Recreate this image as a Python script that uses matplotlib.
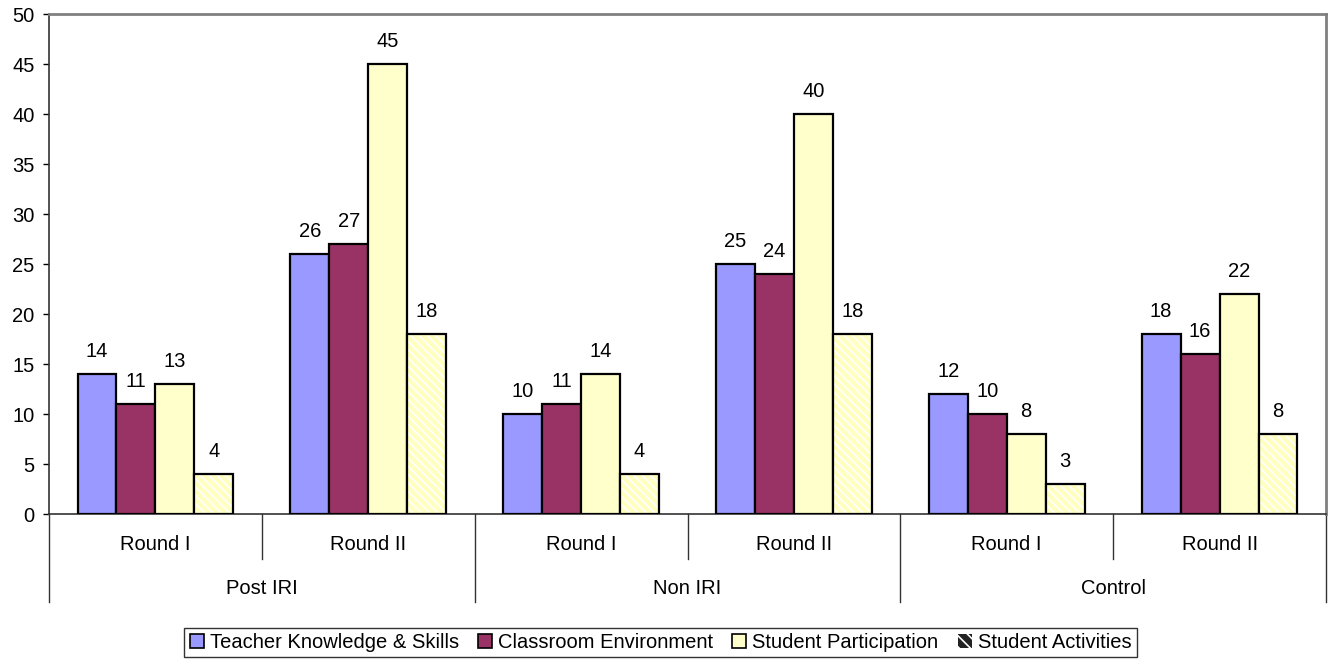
import matplotlib
matplotlib.use("Agg")
import matplotlib.pyplot as plt
from matplotlib.patches import Patch
import matplotlib.transforms as mtransforms

plt.rcParams['font.family'] = ['Liberation Sans', 'DejaVu Sans']
plt.rcParams['hatch.linewidth'] = 1.2

groups = ["Post IRI", "Non IRI", "Control"]
rounds = ["Round I", "Round II", "Round I", "Round II", "Round I", "Round II"]
series_names = ["Teacher Knowledge & Skills", "Classroom Environment",
                "Student Participation", "Student Activities"]
teacher = [14, 26, 10, 25, 12, 18]
classroom = [11, 27, 11, 24, 10, 16]
participation = [13, 45, 14, 40, 8, 22]
activities = [4, 18, 4, 18, 3, 8]
yticks = list(range(0, 51, 5))

colors = ["#9999FF", "#993366", "#FFFFCC", "#FFFFC0"]
FS = 14.5

fig = plt.figure(figsize=(13.31, 6.64), dpi=100)
ax = fig.add_axes([49 / 1331, 1 - 514 / 664, 1277 / 1331, 500 / 664])

width = 0.183
xs = [i + 0.5 for i in range(len(rounds))]
all_series = [teacher, classroom, participation, activities]
for k, vals in enumerate(all_series):
    pos = [x + (k - 1.5) * width for x in xs]
    if k < 3:
        ax.bar(pos, vals, width=width, color=colors[k], edgecolor="black",
               linewidth=1.6, zorder=3)
    else:
        # light hatched fill, then black outline on top
        ax.bar(pos, vals, width=width, color=colors[k], edgecolor="white",
               hatch="\\\\\\\\", linewidth=0, zorder=3)
        ax.bar(pos, vals, width=width, color="none", edgecolor="black",
               linewidth=1.6, zorder=4)
    for p, v in zip(pos, vals):
        ax.annotate(str(v), (p, v), xytext=(0, 12), textcoords="offset points",
                    ha="center", va="baseline", fontsize=FS)

ax.set_xlim(0, 6)
ax.set_ylim(0, 50)
ax.set_yticks(yticks)
ax.tick_params(axis="y", direction="out", length=4.5, width=1, labelsize=FS, pad=6)
ax.set_xticks([])

for side in ["top", "right"]:
    ax.spines[side].set_color("#808080")
    ax.spines[side].set_linewidth(2)
ax.spines["left"].set_color("#333333")
ax.spines["left"].set_linewidth(1.2)
ax.spines["bottom"].set_color("#333333")
ax.spines["bottom"].set_linewidth(1.2)

trans = mtransforms.blended_transform_factory(ax.transData, ax.transAxes)
# multi-level category axis
for x in [1, 3, 5]:
    ax.plot([x, x], [0, -0.09], transform=trans, color="#333333", lw=1, clip_on=False)
for x in [0, 2, 4, 6]:
    ax.plot([x, x], [0, -0.176], transform=trans, color="#333333", lw=1, clip_on=False)
for x, lab in zip(xs, rounds):
    ax.text(x, -0.062, lab, transform=trans, ha="center", va="center", fontsize=FS)
for i, g in enumerate(groups):
    ax.text(2 * i + 1, -0.148, g, transform=trans, ha="center", va="center", fontsize=FS)

handles = [Patch(facecolor=colors[0], edgecolor="black", linewidth=1.2),
           Patch(facecolor=colors[1], edgecolor="black", linewidth=1.2),
           Patch(facecolor=colors[2], edgecolor="black", linewidth=1.2),
           Patch(facecolor="#222222", edgecolor="white", hatch="\\\\\\", linewidth=0)]
leg = fig.legend(handles, series_names, loc="center", bbox_to_anchor=(660.5 / 1331, 1 - 642.5 / 664),
                 ncol=4, fontsize=FS, frameon=True, fancybox=False, handlelength=0.7,
                 handleheight=0.7, handletextpad=0.3, columnspacing=0.95, borderpad=0.25,
                 borderaxespad=0)
leg.get_frame().set_edgecolor("black")
leg.get_frame().set_linewidth(1)

fig.savefig("out.png", dpi=100)
